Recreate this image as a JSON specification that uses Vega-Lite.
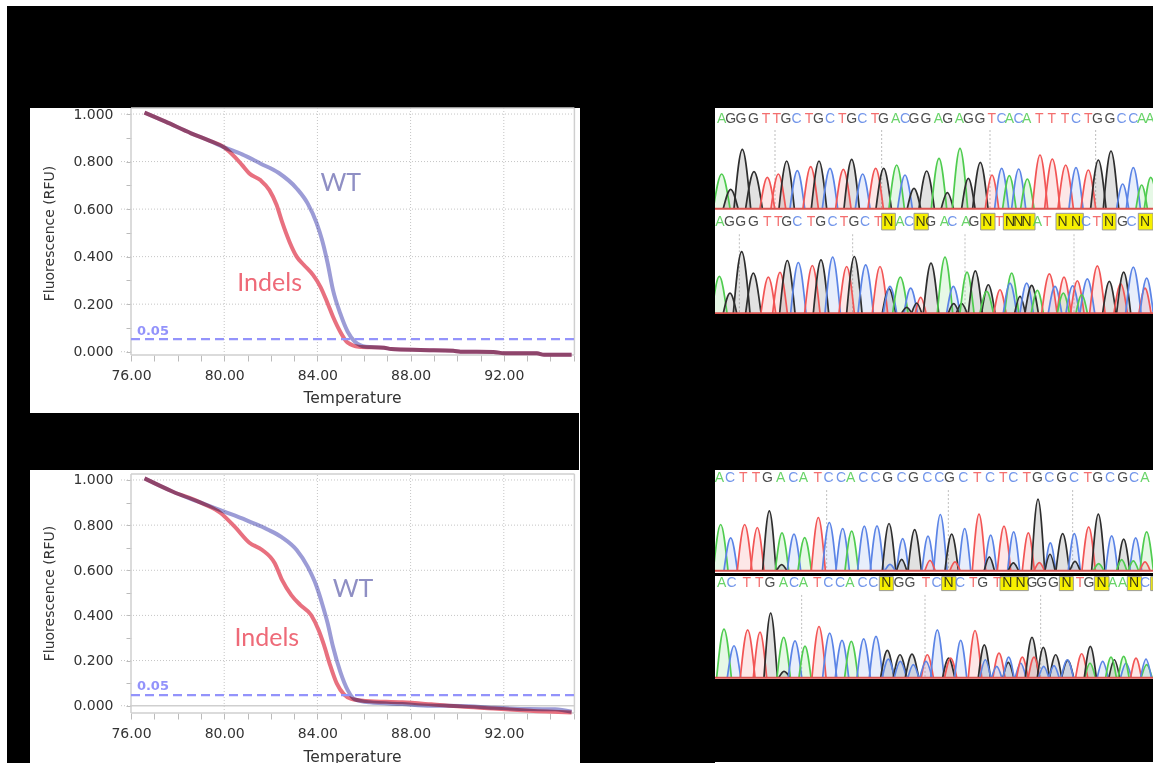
{"$schema":"https://vega.github.io/schema/vega-lite/v6.json","background":"white","padding":{"left":6,"top":5,"right":0,"bottom":0},"spacing":-4,"config":{"concat":{"spacing":0},"axis":{"labelFont":"DejaVu Sans","titleFont":"DejaVu Sans","labelFontSize":14,"labelColor":"#333","titleColor":"#333","titleFontWeight":"normal"}},
"datasets":{
"gridV1":[{"t":80,"f":-0.0139,"f2":1.0254},{"t":84,"f":-0.0139,"f2":1.0254},{"t":88,"f":-0.0139,"f2":1.0254},{"t":92,"f":-0.0139,"f2":1.0254}],
"gridH":[{"f":0,"t":75.57,"t2":76},{"f":0.2,"t":75.57,"t2":95.03},{"f":0.4,"t":75.57,"t2":95.03},{"f":0.6,"t":75.57,"t2":95.03},{"f":0.8,"t":75.57,"t2":95.03},{"f":1,"t":75.57,"t2":95.03}],
"gridV2":[{"t":80,"f":-0.0323,"f2":1.0266},{"t":84,"f":-0.0323,"f2":1.0266},{"t":88,"f":-0.0323,"f2":1.0266},{"t":92,"f":-0.0323,"f2":1.0266}],
"frameH1":[{"f":-0.0139,"t":76,"t2":95.03},{"f":1.0254,"t":76,"t2":95.03}],
"frameV1":[{"t":76,"f":-0.0139,"f2":1.0254},{"t":95.03,"f":-0.0139,"f2":1.0254}],
"frameH2":[{"f":-0.0323,"t":76,"t2":95.03},{"f":1.0266,"t":76,"t2":95.03},{"f":0,"t":76,"t2":95.03}],
"frameV2":[{"t":76,"f":-0.0323,"f2":1.0266},{"t":95.03,"f":-0.0323,"f2":1.0266}],
"wt1":[{"t":76.58,"f":1.006},{"t":77.48,"f":0.968},{"t":78.58,"f":0.919},{"t":79.36,"f":0.888},{"t":80,"f":0.86},{"t":80.77,"f":0.83},{"t":81.55,"f":0.792},{"t":82.33,"f":0.753},{"t":83.11,"f":0.687},{"t":83.58,"f":0.624},{"t":83.97,"f":0.54},{"t":84.2,"f":0.47},{"t":84.44,"f":0.372},{"t":84.67,"f":0.259},{"t":84.98,"f":0.161},{"t":85.3,"f":0.084},{"t":85.61,"f":0.042},{"t":86.08,"f":0.021},{"t":86.86,"f":0.017},{"t":87.17,"f":0.011},{"t":88.42,"f":0.007},{"t":89.83,"f":0.004},{"t":90.14,"f":0},{"t":91.55,"f":-0.001},{"t":92.02,"f":-0.007},{"t":93.42,"f":-0.007},{"t":93.73,"f":-0.013},{"t":94.91,"f":-0.013}],
"in1":[{"t":76.58,"f":1.006},{"t":77.48,"f":0.968},{"t":78.58,"f":0.919},{"t":79.36,"f":0.888},{"t":80,"f":0.86},{"t":80.45,"f":0.82},{"t":80.77,"f":0.785},{"t":81.08,"f":0.75},{"t":81.55,"f":0.722},{"t":81.94,"f":0.68},{"t":82.25,"f":0.617},{"t":82.48,"f":0.547},{"t":82.8,"f":0.463},{"t":83.11,"f":0.4},{"t":83.42,"f":0.365},{"t":83.81,"f":0.323},{"t":84.13,"f":0.273},{"t":84.44,"f":0.203},{"t":84.67,"f":0.147},{"t":84.98,"f":0.084},{"t":85.3,"f":0.038},{"t":85.77,"f":0.021},{"t":86.86,"f":0.017},{"t":87.17,"f":0.011},{"t":88.42,"f":0.007},{"t":89.83,"f":0.004},{"t":90.14,"f":0},{"t":91.55,"f":-0.001},{"t":92.02,"f":-0.007},{"t":93.42,"f":-0.007},{"t":93.73,"f":-0.013},{"t":94.91,"f":-0.013}],
"wt2":[{"t":76.58,"f":1.007},{"t":77.8,"f":0.948},{"t":78.89,"f":0.904},{"t":80,"f":0.86},{"t":80.92,"f":0.823},{"t":81.86,"f":0.781},{"t":82.48,"f":0.746},{"t":83.11,"f":0.69},{"t":83.58,"f":0.616},{"t":83.97,"f":0.527},{"t":84.2,"f":0.453},{"t":84.44,"f":0.365},{"t":84.67,"f":0.261},{"t":84.98,"f":0.151},{"t":85.3,"f":0.069},{"t":85.61,"f":0.028},{"t":86.23,"f":0.015},{"t":87.64,"f":0.007},{"t":88.89,"f":0},{"t":90.14,"f":-0.001},{"t":91.55,"f":-0.009},{"t":93.11,"f":-0.015},{"t":94.2,"f":-0.016},{"t":94.91,"f":-0.027}],
"in2":[{"t":76.58,"f":1.007},{"t":77.8,"f":0.948},{"t":78.89,"f":0.904},{"t":79.83,"f":0.855},{"t":80.45,"f":0.793},{"t":81.08,"f":0.722},{"t":81.63,"f":0.69},{"t":82.17,"f":0.631},{"t":82.48,"f":0.557},{"t":82.88,"f":0.49},{"t":83.27,"f":0.446},{"t":83.73,"f":0.402},{"t":84.05,"f":0.335},{"t":84.28,"f":0.269},{"t":84.52,"f":0.188},{"t":84.83,"f":0.099},{"t":85.14,"f":0.05},{"t":85.45,"f":0.03},{"t":86.08,"f":0.021},{"t":87.64,"f":0.015},{"t":88.89,"f":0.006},{"t":90.14,"f":-0.004},{"t":91.55,"f":-0.012},{"t":93.11,"f":-0.022},{"t":94.91,"f":-0.03}],
"c1p":[{"c":35,"b":"A","x":[10,35,60],"y":[0,103,0]},{"c":62,"b":"G","x":[40,62,84],"y":[0,57,0]},{"c":97,"b":"G","x":[72,97,122],"y":[0,177,0]},{"c":132,"b":"G","x":[107,132,157],"y":[0,110,0]},{"c":172,"b":"T","x":[150,172,194],"y":[0,93,0]},{"c":205,"b":"T","x":[183,205,227],"y":[0,103,0]},{"c":230,"b":"G","x":[207,230,253],"y":[0,142,0]},{"c":262,"b":"C","x":[240,262,284],"y":[0,113,0]},{"c":302,"b":"T","x":[279,302,325],"y":[0,125,0]},{"c":327,"b":"G","x":[304,327,350],"y":[0,142,0]},{"c":360,"b":"C","x":[337,360,383],"y":[0,120,0]},{"c":400,"b":"T","x":[377,400,423],"y":[0,117,0]},{"c":425,"b":"G","x":[402,425,448],"y":[0,147,0]},{"c":458,"b":"C","x":[436,458,480],"y":[0,103,0]},{"c":497,"b":"T","x":[474,497,520],"y":[0,120,0]},{"c":521,"b":"G","x":[498,521,544],"y":[0,120,0]},{"c":560,"b":"A","x":[537,560,583],"y":[0,130,0]},{"c":585,"b":"C","x":[563,585,607],"y":[0,100,0]},{"c":612,"b":"G","x":[592,612,632],"y":[0,60,0]},{"c":650,"b":"G","x":[627,650,673],"y":[0,112,0]},{"c":687,"b":"A","x":[664,687,710],"y":[0,150,0]},{"c":712,"b":"G","x":[694,712,730],"y":[0,47,0]},{"c":750,"b":"A","x":[727,750,773],"y":[0,180,0]},{"c":775,"b":"G","x":[755,775,795],"y":[0,90,0]},{"c":811,"b":"G","x":[788,811,834],"y":[0,138,0]},{"c":846,"b":"T","x":[826,846,866],"y":[0,100,0]},{"c":875,"b":"C","x":[854,875,896],"y":[0,120,0]},{"c":898,"b":"A","x":[878,898,918],"y":[0,98,0]},{"c":926,"b":"C","x":[905,926,947],"y":[0,118,0]},{"c":952,"b":"A","x":[932,952,972],"y":[0,88,0]},{"c":990,"b":"T","x":[967,990,1013],"y":[0,160,0]},{"c":1027,"b":"T","x":[1004,1027,1050],"y":[0,148,0]},{"c":1067,"b":"T","x":[1044,1067,1090],"y":[0,130,0]},{"c":1098,"b":"C","x":[1077,1098,1119],"y":[0,122,0]},{"c":1135,"b":"T","x":[1113,1135,1157],"y":[0,115,0]},{"c":1165,"b":"G","x":[1142,1165,1188],"y":[0,145,0]},{"c":1203,"b":"G","x":[1180,1203,1226],"y":[0,172,0]},{"c":1238,"b":"C","x":[1220,1238,1256],"y":[0,73,0]},{"c":1270,"b":"C","x":[1249,1270,1291],"y":[0,122,0]},{"c":1295,"b":"A","x":[1278,1295,1312],"y":[0,70,0]},{"c":1322,"b":"A","x":[1303,1322,1345],"y":[0,93,0]}],
"c1l":[{"x":35,"y":270,"b":"A"},{"x":62,"y":270,"b":"G"},{"x":93,"y":270,"b":"G"},{"x":130,"y":270,"b":"G"},{"x":168,"y":270,"b":"T"},{"x":200,"y":270,"b":"T"},{"x":228,"y":270,"b":"G"},{"x":260,"y":270,"b":"C"},{"x":297,"y":270,"b":"T"},{"x":325,"y":270,"b":"G"},{"x":360,"y":270,"b":"C"},{"x":397,"y":270,"b":"T"},{"x":425,"y":270,"b":"G"},{"x":457,"y":270,"b":"C"},{"x":495,"y":270,"b":"T"},{"x":520,"y":270,"b":"G"},{"x":557,"y":270,"b":"A"},{"x":585,"y":270,"b":"C"},{"x":612,"y":270,"b":"G"},{"x":648,"y":270,"b":"G"},{"x":685,"y":270,"b":"A"},{"x":713,"y":270,"b":"G"},{"x":748,"y":270,"b":"A"},{"x":775,"y":270,"b":"G"},{"x":810,"y":270,"b":"G"},{"x":845,"y":270,"b":"T"},{"x":875,"y":270,"b":"C"},{"x":898,"y":270,"b":"A"},{"x":926,"y":270,"b":"C"},{"x":950,"y":270,"b":"A"},{"x":988,"y":270,"b":"T"},{"x":1025,"y":270,"b":"T"},{"x":1065,"y":270,"b":"T"},{"x":1098,"y":270,"b":"C"},{"x":1135,"y":270,"b":"T"},{"x":1162,"y":270,"b":"G"},{"x":1200,"y":270,"b":"G"},{"x":1235,"y":270,"b":"C"},{"x":1270,"y":270,"b":"C"},{"x":1295,"y":270,"b":"A"},{"x":1320,"y":270,"b":"A"}],
"c1d":[{"x":195,"y":235,"y2":0},{"x":515,"y":235,"y2":0},{"x":840,"y":235,"y2":0},{"x":1157,"y":235,"y2":0}],
"c2p":[{"c":28,"b":"A","x":[5,28,51],"y":[0,110,0]},{"c":60,"b":"G","x":[40,60,80],"y":[0,60,0]},{"c":95,"b":"G","x":[70,95,120],"y":[0,185,0]},{"c":130,"b":"G","x":[107,130,153],"y":[0,120,0]},{"c":175,"b":"T","x":[153,175,197],"y":[0,108,0]},{"c":210,"b":"T","x":[188,210,232],"y":[0,122,0]},{"c":232,"b":"G","x":[209,232,255],"y":[0,158,0]},{"c":265,"b":"C","x":[242,265,288],"y":[0,152,0]},{"c":307,"b":"T","x":[284,307,330],"y":[0,143,0]},{"c":333,"b":"G","x":[310,333,356],"y":[0,160,0]},{"c":368,"b":"C","x":[345,368,391],"y":[0,168,0]},{"c":410,"b":"T","x":[387,410,433],"y":[0,140,0]},{"c":433,"b":"G","x":[410,433,456],"y":[0,170,0]},{"c":467,"b":"C","x":[444,467,490],"y":[0,145,0]},{"c":510,"b":"T","x":[487,510,533],"y":[0,140,0]},{"c":537,"b":"G","x":[517,537,557],"y":[0,73,0]},{"c":540,"b":"C","x":[520,540,560],"y":[0,80,0]},{"c":571,"b":"A","x":[548,571,594],"y":[0,108,0]},{"c":602,"b":"C","x":[582,602,622],"y":[0,75,0]},{"c":590,"b":"G","x":[575,590,605],"y":[0,17,0]},{"c":632,"b":"T","x":[616,632,648],"y":[0,47,0]},{"c":620,"b":"G","x":[605,620,635],"y":[0,30,0]},{"c":663,"b":"G","x":[640,663,686],"y":[0,150,0]},{"c":705,"b":"A","x":[682,705,728],"y":[0,168,0]},{"c":730,"b":"C","x":[710,730,750],"y":[0,80,0]},{"c":731,"b":"G","x":[715,731,747],"y":[0,28,0]},{"c":755,"b":"G","x":[739,755,771],"y":[0,28,0]},{"c":771,"b":"A","x":[750,771,792],"y":[0,123,0]},{"c":796,"b":"G","x":[775,796,817],"y":[0,127,0]},{"c":835,"b":"G","x":[815,835,855],"y":[0,85,0]},{"c":830,"b":"A","x":[810,830,850],"y":[0,65,0]},{"c":870,"b":"T","x":[852,870,888],"y":[0,70,0]},{"c":905,"b":"A","x":[884,905,926],"y":[0,120,0]},{"c":900,"b":"C","x":[880,900,920],"y":[0,90,0]},{"c":930,"b":"G","x":[914,930,946],"y":[0,50,0]},{"c":950,"b":"C","x":[930,950,970],"y":[0,90,0]},{"c":965,"b":"G","x":[945,965,985],"y":[0,83,0]},{"c":982,"b":"A","x":[964,982,1000],"y":[0,68,0]},{"c":1018,"b":"T","x":[995,1018,1041],"y":[0,118,0]},{"c":1035,"b":"C","x":[1015,1035,1055],"y":[0,80,0]},{"c":1062,"b":"T","x":[1041,1062,1083],"y":[0,108,0]},{"c":1060,"b":"A","x":[1042,1060,1078],"y":[0,60,0]},{"c":1088,"b":"C","x":[1068,1088,1108],"y":[0,82,0]},{"c":1102,"b":"T","x":[1082,1102,1122],"y":[0,97,0]},{"c":1132,"b":"C","x":[1110,1132,1154],"y":[0,103,0]},{"c":1115,"b":"A","x":[1098,1115,1132],"y":[0,55,0]},{"c":1162,"b":"T","x":[1139,1162,1185],"y":[0,142,0]},{"c":1198,"b":"G","x":[1178,1198,1218],"y":[0,95,0]},{"c":1232,"b":"T","x":[1212,1232,1252],"y":[0,88,0]},{"c":1241,"b":"G","x":[1220,1241,1262],"y":[0,123,0]},{"c":1270,"b":"C","x":[1247,1270,1293],"y":[0,138,0]},{"c":1305,"b":"T","x":[1287,1305,1323],"y":[0,75,0]},{"c":1310,"b":"C","x":[1290,1310,1330],"y":[0,105,0]}],
"c2l":[{"x":30,"y":275,"b":"A"},{"x":58,"y":275,"b":"G"},{"x":92,"y":275,"b":"G"},{"x":130,"y":275,"b":"G"},{"x":172,"y":275,"b":"T"},{"x":205,"y":275,"b":"T"},{"x":230,"y":275,"b":"G"},{"x":262,"y":275,"b":"C"},{"x":303,"y":275,"b":"T"},{"x":332,"y":275,"b":"G"},{"x":368,"y":275,"b":"C"},{"x":402,"y":275,"b":"T"},{"x":432,"y":275,"b":"G"},{"x":465,"y":275,"b":"C"},{"x":505,"y":275,"b":"T"},{"x":535,"y":275,"b":"N"},{"x":570,"y":275,"b":"A"},{"x":597,"y":275,"b":"C"},{"x":632,"y":275,"b":"N"},{"x":662,"y":275,"b":"G"},{"x":703,"y":275,"b":"A"},{"x":727,"y":275,"b":"C"},{"x":768,"y":275,"b":"A"},{"x":792,"y":275,"b":"G"},{"x":832,"y":275,"b":"N"},{"x":868,"y":275,"b":"T"},{"x":900,"y":275,"b":"N"},{"x":925,"y":275,"b":"N"},{"x":950,"y":275,"b":"N"},{"x":982,"y":275,"b":"A"},{"x":1012,"y":275,"b":"T"},{"x":1058,"y":275,"b":"N"},{"x":1098,"y":275,"b":"N"},{"x":1128,"y":275,"b":"C"},{"x":1160,"y":275,"b":"T"},{"x":1197,"y":275,"b":"N"},{"x":1237,"y":275,"b":"G"},{"x":1265,"y":275,"b":"C"},{"x":1305,"y":275,"b":"N"}],
"c2b":[{"x":515,"x2":556,"y":300,"y2":250},{"x":612,"x2":655,"y":300,"y2":250},{"x":812,"x2":855,"y":300,"y2":250},{"x":880,"x2":975,"y":300,"y2":250},{"x":1038,"x2":1120,"y":300,"y2":250},{"x":1177,"x2":1218,"y":300,"y2":250},{"x":1285,"x2":1329,"y":300,"y2":250}],
"c2d":[{"x":88,"y":237,"y2":0},{"x":428,"y":237,"y2":0},{"x":765,"y":237,"y2":0},{"x":1092,"y":237,"y2":0}],
"c3p":[{"c":32,"b":"A","x":[10,32,54],"y":[0,137,0]},{"c":62,"b":"C","x":[42,62,82],"y":[0,97,0]},{"c":104,"b":"T","x":[82,104,126],"y":[0,137,0]},{"c":142,"b":"T","x":[122,142,162],"y":[0,128,0]},{"c":178,"b":"G","x":[158,178,198],"y":[0,178,0]},{"c":216,"b":"A","x":[196,216,236],"y":[0,112,0]},{"c":252,"b":"C","x":[232,252,272],"y":[0,108,0]},{"c":284,"b":"A","x":[264,284,304],"y":[0,98,0]},{"c":325,"b":"T","x":[304,325,346],"y":[0,158,0]},{"c":358,"b":"C","x":[337,358,379],"y":[0,143,0]},{"c":398,"b":"C","x":[378,398,418],"y":[0,125,0]},{"c":425,"b":"A","x":[405,425,445],"y":[0,117,0]},{"c":463,"b":"C","x":[443,463,483],"y":[0,132,0]},{"c":501,"b":"C","x":[481,501,521],"y":[0,133,0]},{"c":537,"b":"G","x":[517,537,557],"y":[0,140,0]},{"c":578,"b":"C","x":[560,578,596],"y":[0,95,0]},{"c":614,"b":"G","x":[594,614,634],"y":[0,122,0]},{"c":654,"b":"C","x":[636,654,672],"y":[0,102,0]},{"c":691,"b":"C","x":[671,691,711],"y":[0,167,0]},{"c":725,"b":"G","x":[705,725,745],"y":[0,108,0]},{"c":764,"b":"C","x":[746,764,782],"y":[0,125,0]},{"c":807,"b":"T","x":[787,807,827],"y":[0,168,0]},{"c":842,"b":"C","x":[824,842,860],"y":[0,105,0]},{"c":882,"b":"T","x":[862,882,902],"y":[0,132,0]},{"c":911,"b":"C","x":[893,911,929],"y":[0,115,0]},{"c":955,"b":"T","x":[937,955,973],"y":[0,112,0]},{"c":984,"b":"G","x":[964,984,1004],"y":[0,213,0]},{"c":1021,"b":"C","x":[1005,1021,1037],"y":[0,82,0]},{"c":1058,"b":"G","x":[1038,1058,1078],"y":[0,110,0]},{"c":1093,"b":"C","x":[1075,1093,1111],"y":[0,110,0]},{"c":1136,"b":"T","x":[1116,1136,1156],"y":[0,130,0]},{"c":1165,"b":"G","x":[1145,1165,1185],"y":[0,168,0]},{"c":1205,"b":"C","x":[1187,1205,1223],"y":[0,103,0]},{"c":1241,"b":"G","x":[1223,1241,1259],"y":[0,93,0]},{"c":1277,"b":"C","x":[1259,1277,1295],"y":[0,97,0]},{"c":1310,"b":"A","x":[1290,1310,1330],"y":[0,115,0]},{"c":215,"b":"G","x":[200,215,230],"y":[0,17,0]},{"c":575,"b":"G","x":[560,575,590],"y":[0,33,0]},{"c":660,"b":"T","x":[645,660,675],"y":[0,30,0]},{"c":838,"b":"G","x":[823,838,853],"y":[0,40,0]},{"c":735,"b":"T","x":[720,735,750],"y":[0,25,0]},{"c":910,"b":"G","x":[895,910,925],"y":[0,22,0]},{"c":988,"b":"T","x":[973,988,1003],"y":[0,23,0]},{"c":1020,"b":"G","x":[1005,1020,1035],"y":[0,48,0]},{"c":1095,"b":"G","x":[1080,1095,1110],"y":[0,27,0]},{"c":1166,"b":"A","x":[1151,1166,1181],"y":[0,20,0]},{"c":1235,"b":"A","x":[1220,1235,1250],"y":[0,32,0]},{"c":1270,"b":"A","x":[1255,1270,1285],"y":[0,28,0]},{"c":1305,"b":"T","x":[1290,1305,1320],"y":[0,25,0]},{"c":540,"b":"C","x":[525,540,555],"y":[0,18,0]}],
"c3l":[{"x":28,"y":275,"b":"A"},{"x":60,"y":275,"b":"C"},{"x":100,"y":275,"b":"T"},{"x":138,"y":275,"b":"T"},{"x":172,"y":275,"b":"G"},{"x":212,"y":275,"b":"A"},{"x":250,"y":275,"b":"C"},{"x":280,"y":275,"b":"A"},{"x":323,"y":275,"b":"T"},{"x":356,"y":275,"b":"C"},{"x":393,"y":275,"b":"C"},{"x":422,"y":275,"b":"A"},{"x":460,"y":275,"b":"C"},{"x":497,"y":275,"b":"C"},{"x":533,"y":275,"b":"G"},{"x":575,"y":275,"b":"C"},{"x":610,"y":275,"b":"G"},{"x":652,"y":275,"b":"C"},{"x":688,"y":275,"b":"C"},{"x":718,"y":275,"b":"G"},{"x":760,"y":275,"b":"C"},{"x":802,"y":275,"b":"T"},{"x":840,"y":275,"b":"C"},{"x":880,"y":275,"b":"T"},{"x":910,"y":275,"b":"C"},{"x":950,"y":275,"b":"T"},{"x":982,"y":275,"b":"G"},{"x":1018,"y":275,"b":"C"},{"x":1055,"y":275,"b":"G"},{"x":1092,"y":275,"b":"C"},{"x":1133,"y":275,"b":"T"},{"x":1163,"y":275,"b":"G"},{"x":1200,"y":275,"b":"C"},{"x":1238,"y":275,"b":"G"},{"x":1272,"y":275,"b":"C"},{"x":1305,"y":275,"b":"A"}],
"c3d":[{"x":350,"y":240,"y2":0},{"x":715,"y":240,"y2":0},{"x":1088,"y":240,"y2":0}],
"c4p":[{"c":42,"b":"A","x":[20,42,64],"y":[0,145,0]},{"c":72,"b":"C","x":[52,72,92],"y":[0,95,0]},{"c":113,"b":"T","x":[91,113,135],"y":[0,143,0]},{"c":150,"b":"T","x":[130,150,170],"y":[0,136,0]},{"c":182,"b":"G","x":[162,182,202],"y":[0,193,0]},{"c":222,"b":"G","x":[207,222,240],"y":[0,18,0]},{"c":221,"b":"A","x":[201,221,241],"y":[0,120,0]},{"c":255,"b":"C","x":[235,255,275],"y":[0,110,0]},{"c":285,"b":"A","x":[267,285,303],"y":[0,94,0]},{"c":327,"b":"T","x":[306,327,348],"y":[0,153,0]},{"c":359,"b":"C","x":[338,359,380],"y":[0,133,0]},{"c":396,"b":"C","x":[376,396,416],"y":[0,111,0]},{"c":424,"b":"A","x":[404,424,444],"y":[0,108,0]},{"c":461,"b":"C","x":[441,461,481],"y":[0,116,0]},{"c":498,"b":"C","x":[478,498,518],"y":[0,123,0]},{"c":532,"b":"G","x":[512,532,552],"y":[0,81,0]},{"c":535,"b":"C","x":[517,535,553],"y":[0,55,0]},{"c":570,"b":"G","x":[550,570,590],"y":[0,68,0]},{"c":571,"b":"C","x":[553,571,589],"y":[0,48,0]},{"c":606,"b":"G","x":[586,606,626],"y":[0,70,0]},{"c":610,"b":"C","x":[594,610,626],"y":[0,38,0]},{"c":652,"b":"T","x":[634,652,670],"y":[0,68,0]},{"c":648,"b":"C","x":[630,648,666],"y":[0,48,0]},{"c":682,"b":"C","x":[662,682,702],"y":[0,143,0]},{"c":716,"b":"G","x":[698,716,734],"y":[0,58,0]},{"c":722,"b":"T","x":[704,722,740],"y":[0,58,0]},{"c":752,"b":"C","x":[734,752,770],"y":[0,111,0]},{"c":795,"b":"T","x":[775,795,815],"y":[0,141,0]},{"c":823,"b":"G","x":[805,823,841],"y":[0,98,0]},{"c":826,"b":"C","x":[810,826,842],"y":[0,53,0]},{"c":867,"b":"T","x":[849,867,885],"y":[0,73,0]},{"c":860,"b":"C","x":[845,860,875],"y":[0,33,0]},{"c":895,"b":"G","x":[879,895,911],"y":[0,45,0]},{"c":896,"b":"C","x":[880,896,912],"y":[0,61,0]},{"c":932,"b":"C","x":[916,932,948],"y":[0,43,0]},{"c":937,"b":"T","x":[920,937,954],"y":[0,61,0]},{"c":966,"b":"G","x":[946,966,986],"y":[0,120,0]},{"c":972,"b":"T","x":[955,972,989],"y":[0,61,0]},{"c":1000,"b":"G","x":[982,1000,1018],"y":[0,90,0]},{"c":1001,"b":"C","x":[986,1001,1016],"y":[0,33,0]},{"c":1037,"b":"G","x":[1019,1037,1055],"y":[0,68,0]},{"c":1032,"b":"C","x":[1017,1032,1047],"y":[0,35,0]},{"c":1073,"b":"G","x":[1055,1073,1091],"y":[0,51,0]},{"c":1072,"b":"C","x":[1054,1072,1090],"y":[0,53,0]},{"c":1115,"b":"T","x":[1097,1115,1133],"y":[0,71,0]},{"c":1140,"b":"A","x":[1124,1140,1156],"y":[0,43,0]},{"c":1141,"b":"G","x":[1123,1141,1159],"y":[0,93,0]},{"c":1178,"b":"C","x":[1162,1178,1194],"y":[0,48,0]},{"c":1213,"b":"G","x":[1197,1213,1229],"y":[0,53,0]},{"c":1203,"b":"A","x":[1187,1203,1219],"y":[0,61,0]},{"c":1248,"b":"C","x":[1232,1248,1264],"y":[0,43,0]},{"c":1241,"b":"A","x":[1225,1241,1257],"y":[0,63,0]},{"c":1278,"b":"T","x":[1262,1278,1294],"y":[0,58,0]},{"c":1310,"b":"A","x":[1294,1310,1326],"y":[0,38,0]},{"c":1308,"b":"C","x":[1292,1308,1324],"y":[0,55,0]}],
"c4l":[{"x":35,"y":283,"b":"A"},{"x":65,"y":283,"b":"C"},{"x":110,"y":283,"b":"T"},{"x":148,"y":283,"b":"T"},{"x":180,"y":283,"b":"G"},{"x":220,"y":283,"b":"A"},{"x":252,"y":283,"b":"C"},{"x":280,"y":283,"b":"A"},{"x":322,"y":283,"b":"T"},{"x":355,"y":283,"b":"C"},{"x":390,"y":283,"b":"C"},{"x":420,"y":283,"b":"A"},{"x":458,"y":283,"b":"C"},{"x":490,"y":283,"b":"C"},{"x":529,"y":283,"b":"N"},{"x":567,"y":283,"b":"G"},{"x":600,"y":283,"b":"G"},{"x":648,"y":283,"b":"T"},{"x":680,"y":283,"b":"C"},{"x":716,"y":283,"b":"N"},{"x":750,"y":283,"b":"C"},{"x":790,"y":283,"b":"T"},{"x":818,"y":283,"b":"G"},{"x":862,"y":283,"b":"T"},{"x":892,"y":283,"b":"N"},{"x":932,"y":283,"b":"N"},{"x":966,"y":283,"b":"G"},{"x":995,"y":283,"b":"G"},{"x":1030,"y":283,"b":"G"},{"x":1070,"y":283,"b":"N"},{"x":1110,"y":283,"b":"T"},{"x":1137,"y":283,"b":"G"},{"x":1175,"y":283,"b":"N"},{"x":1208,"y":283,"b":"A"},{"x":1238,"y":283,"b":"A"},{"x":1272,"y":283,"b":"N"},{"x":1305,"y":283,"b":"C"}],
"c4b":[{"x":508,"x2":550,"y":303,"y2":261},{"x":695,"x2":738,"y":303,"y2":261},{"x":870,"x2":955,"y":303,"y2":261},{"x":1048,"x2":1090,"y":303,"y2":261},{"x":1153,"x2":1197,"y":303,"y2":261},{"x":1252,"x2":1295,"y":303,"y2":261},{"x":1322,"x2":1329,"y":303,"y2":261}],
"c4d":[{"x":275,"y":248,"y2":0},{"x":645,"y":248,"y2":0},{"x":992,"y":248,"y2":0}]
},
"vconcat":[
{"width":1147,"height":102,"view":{"fill":"#000","stroke":null},"data":{"values":[{"v":0}]},"mark":{"type":"rule","opacity":0},"encoding":{}},
{"spacing":-1,"hconcat":[
{"width":23,"height":655,"view":{"fill":"#000","stroke":null},"data":{"values":[{"v":0}]},"mark":{"type":"rule","opacity":0},"encoding":{}},
{"spacing":0,"bounds":"flush","vconcat":[
{"width":549,"height":305,"view":{"fill":"#fff","stroke":null},
"encoding":{"x":{"field":"t","type":"quantitative","scale":{"domain":[71.665,95.227],"nice":false,"zero":false},"axis":{"orient":"bottom","offset":-58,"domain":false,"grid":false,"values":[77,78,79,80,81,82,83,84,85,86,87,88,89,90,91,92,93,94,95,76],"labelExpr":"(datum.value-76)%4==0 ? format(datum.value,'.2f') : ''","labelPadding":7,"labelOverlap":false,"tickColor":"#bbb","tickSize":6,"title":"Temperature","titleFontSize":15.5,"titleX":322,"titleY":42,"titleBaseline":"middle","titleAnchor":"middle"}},"y":{"field":"f","type":"quantitative","scale":{"domain":[-0.2579,1.0254],"nice":false,"zero":false},"axis":{"orient":"left","offset":-101,"domain":false,"grid":false,"values":[0,0.1,0.2,0.3,0.4,0.5,0.6,0.7,0.8,0.9,1],"labelExpr":"round(datum.value*10)%2==0 ? format(datum.value,'.3f') : ''","labelPadding":13,"labelOverlap":false,"tickColor":"#bbb","tickSize":5,"title":"Fluorescence (RFU)","titleFontSize":14,"titleX":-82,"titleY":125,"titleBaseline":"middle","titleAnchor":"middle"}}},
"layer":[
{"data":{"name":"gridV1"},"mark":{"type":"rule","color":"#c4c4c4","strokeDash":[1,2],"strokeWidth":1},"encoding":{"y2":{"field":"f2"}}},
{"data":{"name":"gridH"},"mark":{"type":"rule","color":"#c4c4c4","strokeDash":[1,2],"strokeWidth":1},"encoding":{"x2":{"field":"t2"}}},
{"data":{"name":"frameH1"},"mark":{"type":"rule","color":"#cfcfcf","strokeWidth":1.5},"encoding":{"x2":{"field":"t2"}}},
{"data":{"name":"frameV1"},"mark":{"type":"rule","color":"#cfcfcf","strokeWidth":1.5},"encoding":{"y2":{"field":"f2"}}},
{"data":{"name":"in1"},"mark":{"type":"line","color":"#e8707f","strokeWidth":4,"interpolate":"monotone"}},
{"data":{"name":"wt1"},"mark":{"type":"line","color":"#9c9cd6","strokeWidth":4,"interpolate":"monotone","blend":"multiply"}},
{"data":{"values":[{"t":76,"f":0.053,"t2":95.03}]},"mark":{"type":"rule","color":"#9393fb","strokeWidth":2.4,"strokeDash":[9,5]},"encoding":{"x2":{"field":"t2"}}},
{"data":{"values":[{"t":76.94,"f":0.088,"label":"0.05"}]},"mark":{"type":"text","color":"#9393fb","font":"DejaVu Sans","fontSize":13,"fontWeight":"bold"},"encoding":{"text":{"field":"label"}}},
{"data":{"values":[{"t":85.0,"f":0.71,"label":"WT"}]},"mark":{"type":"text","color":"#8f8fc4","font":"Lato","fontSize":25},"encoding":{"text":{"field":"label"}}},
{"data":{"values":[{"t":81.95,"f":0.289,"label":"Indels"}]},"mark":{"type":"text","color":"#ee6a78","font":"Lato","fontSize":25},"encoding":{"text":{"field":"label"}}}
]},
{"width":549,"height":57,"view":{"fill":"#000","stroke":null},"data":{"values":[{"v":0}]},"mark":{"type":"rule","opacity":0},"encoding":{}},
{"width":549,"height":293,"view":{"fill":"#fff","stroke":null},
"encoding":{"x":{"field":"t","type":"quantitative","scale":{"domain":[71.665,95.227],"nice":false,"zero":false},"axis":{"orient":"bottom","offset":-50,"domain":false,"grid":false,"values":[77,78,79,80,81,82,83,84,85,86,87,88,89,90,91,92,93,94,95,76],"labelExpr":"(datum.value-76)%4==0 ? format(datum.value,'.2f') : ''","labelPadding":7,"labelOverlap":false,"tickColor":"#bbb","tickSize":6,"title":"Temperature","titleFontSize":15.5,"titleX":322,"titleY":43,"titleBaseline":"middle","titleAnchor":"middle"}},"y":{"field":"f","type":"quantitative","scale":{"domain":[-0.2539,1.0443],"nice":false,"zero":false},"axis":{"orient":"left","offset":-101,"domain":false,"grid":false,"values":[0,0.1,0.2,0.3,0.4,0.5,0.6,0.7,0.8,0.9,1],"labelExpr":"round(datum.value*10)%2==0 ? format(datum.value,'.3f') : ''","labelPadding":13,"labelOverlap":false,"tickColor":"#bbb","tickSize":5,"title":"Fluorescence (RFU)","titleFontSize":14,"titleX":-82,"titleY":123,"titleBaseline":"middle","titleAnchor":"middle"}}},
"layer":[
{"data":{"name":"gridV2"},"mark":{"type":"rule","color":"#c4c4c4","strokeDash":[1,2],"strokeWidth":1},"encoding":{"y2":{"field":"f2"}}},
{"data":{"name":"gridH"},"mark":{"type":"rule","color":"#c4c4c4","strokeDash":[1,2],"strokeWidth":1},"encoding":{"x2":{"field":"t2"}}},
{"data":{"name":"frameH2"},"mark":{"type":"rule","color":"#cfcfcf","strokeWidth":1.5},"encoding":{"x2":{"field":"t2"}}},
{"data":{"name":"frameV2"},"mark":{"type":"rule","color":"#cfcfcf","strokeWidth":1.5},"encoding":{"y2":{"field":"f2"}}},
{"data":{"name":"in2"},"mark":{"type":"line","color":"#e8707f","strokeWidth":4,"interpolate":"monotone"}},
{"data":{"name":"wt2"},"mark":{"type":"line","color":"#9c9cd6","strokeWidth":4,"interpolate":"monotone","blend":"multiply"}},
{"data":{"values":[{"t":76,"f":0.047,"t2":95.03}]},"mark":{"type":"rule","color":"#9393fb","strokeWidth":2.4,"strokeDash":[9,5]},"encoding":{"x2":{"field":"t2"}}},
{"data":{"values":[{"t":76.94,"f":0.087,"label":"0.05"}]},"mark":{"type":"text","color":"#9393fb","font":"DejaVu Sans","fontSize":13,"fontWeight":"bold"},"encoding":{"text":{"field":"label"}}},
{"data":{"values":[{"t":85.53,"f":0.517,"label":"WT"}]},"mark":{"type":"text","color":"#8f8fc4","font":"Lato","fontSize":25},"encoding":{"text":{"field":"label"}}},
{"data":{"values":[{"t":81.83,"f":0.301,"label":"Indels"}]},"mark":{"type":"text","color":"#ee6a78","font":"Lato","fontSize":25},"encoding":{"text":{"field":"label"}}}
]}
]},
{"width":135,"height":655,"view":{"fill":"#000","stroke":null},"data":{"values":[{"v":0}]},"mark":{"type":"rule","opacity":0},"encoding":{}},
{"spacing":0,"bounds":"flush","vconcat":[
{"width":438,"height":102,"view":{"fill":"#fff","stroke":null},
"encoding":{"x":{"field":"x","type":"quantitative","scale":{"domain":[15,1329],"nice":false,"zero":false},"axis":null},"y":{"field":"y","type":"quantitative","stack":null,"scale":{"domain":[-5,301],"nice":false,"zero":false},"axis":null},"color":{"field":"b","type":"nominal","legend":null,"scale":{"domain":["A","C","G","T","N"],"range":["#4fcc4f","#5b84e6","#2e2e2e","#f25555","#1a1a1a"]}}},
"layer":[
{"data":{"name":"c1d"},"mark":{"type":"rule","color":"#bdbdbd","strokeDash":[2,2],"strokeWidth":1,"clip":true},"encoding":{"y2":{"field":"y2"},"color":{"value":"#bdbdbd"}}},
{"data":{"name":"c1p"},"transform":[{"flatten":["x","y"]}],"mark":{"type":"area","interpolate":"monotone","fillOpacity":0.14,"clip":true},"encoding":{"detail":{"field":"c"}}},
{"data":{"name":"c1p"},"transform":[{"flatten":["x","y"]}],"mark":{"type":"line","interpolate":"monotone","strokeWidth":1.7,"clip":true},"encoding":{"detail":{"field":"c"}}},
{"data":{"values":[{"x":15,"x2":1329,"y":-1}]},"mark":{"type":"rule","color":"#d9534f","strokeWidth":2,"clip":true},"encoding":{"x2":{"field":"x2"},"color":{"value":"#d9534f"}}},
{"data":{"name":"c1l"},"mark":{"type":"text","font":"Liberation Sans","fontSize":14,"opacity":0.85,"dy":1},"encoding":{"text":{"field":"b","type":"nominal"}}}
]},
{"width":438,"height":104,"view":{"fill":"#fff","stroke":null},
"encoding":{"x":{"field":"x","type":"quantitative","scale":{"domain":[15,1329],"nice":false,"zero":false},"axis":null},"y":{"field":"y","type":"quantitative","stack":null,"scale":{"domain":[-3,310],"nice":false,"zero":false},"axis":null},"color":{"field":"b","type":"nominal","legend":null,"scale":{"domain":["A","C","G","T","N"],"range":["#4fcc4f","#5b84e6","#2e2e2e","#f25555","#1a1a1a"]}}},
"layer":[
{"data":{"name":"c2d"},"mark":{"type":"rule","color":"#bdbdbd","strokeDash":[2,2],"strokeWidth":1,"clip":true},"encoding":{"y2":{"field":"y2"},"color":{"value":"#bdbdbd"}}},
{"data":{"name":"c2p"},"transform":[{"flatten":["x","y"]}],"mark":{"type":"area","interpolate":"monotone","fillOpacity":0.14,"clip":true},"encoding":{"detail":{"field":"c"}}},
{"data":{"name":"c2p"},"transform":[{"flatten":["x","y"]}],"mark":{"type":"line","interpolate":"monotone","strokeWidth":1.7,"clip":true},"encoding":{"detail":{"field":"c"}}},
{"data":{"values":[{"x":15,"x2":1329,"y":-1}]},"mark":{"type":"rule","color":"#d9534f","strokeWidth":2,"clip":true},"encoding":{"x2":{"field":"x2"},"color":{"value":"#d9534f"}}},
{"data":{"name":"c2b"},"mark":{"type":"rect","fill":"#f7f000","stroke":"#999","strokeWidth":1,"clip":true},"encoding":{"x2":{"field":"x2"},"y2":{"field":"y2"},"color":{"value":"#f7f000"}}},
{"data":{"name":"c2l"},"mark":{"type":"text","font":"Liberation Sans","fontSize":14,"opacity":0.85},"encoding":{"text":{"field":"b","type":"nominal"}}}
]},
{"width":438,"height":156,"view":{"fill":"#000","stroke":null},"data":{"values":[{"v":0}]},"mark":{"type":"rule","opacity":0},"encoding":{}},
{"width":438,"height":103,"view":{"fill":"#fff","stroke":null},
"encoding":{"x":{"field":"x","type":"quantitative","scale":{"domain":[15,1329],"nice":false,"zero":false},"axis":null},"y":{"field":"y","type":"quantitative","stack":null,"scale":{"domain":[-8,300],"nice":false,"zero":false},"axis":null},"color":{"field":"b","type":"nominal","legend":null,"scale":{"domain":["A","C","G","T","N"],"range":["#4fcc4f","#5b84e6","#2e2e2e","#f25555","#1a1a1a"]}}},
"layer":[
{"data":{"name":"c3d"},"mark":{"type":"rule","color":"#bdbdbd","strokeDash":[2,2],"strokeWidth":1,"clip":true},"encoding":{"y2":{"field":"y2"},"color":{"value":"#bdbdbd"}}},
{"data":{"name":"c3p"},"transform":[{"flatten":["x","y"]}],"mark":{"type":"area","interpolate":"monotone","fillOpacity":0.14,"clip":true},"encoding":{"detail":{"field":"c"}}},
{"data":{"name":"c3p"},"transform":[{"flatten":["x","y"]}],"mark":{"type":"line","interpolate":"monotone","strokeWidth":1.7,"clip":true},"encoding":{"detail":{"field":"c"}}},
{"data":{"values":[{"x":15,"x2":1329,"y":-1}]},"mark":{"type":"rule","color":"#d9534f","strokeWidth":2,"clip":true},"encoding":{"x2":{"field":"x2"},"color":{"value":"#d9534f"}}},
{"data":{"name":"c3l"},"mark":{"type":"text","font":"Liberation Sans","fontSize":14,"opacity":0.85},"encoding":{"text":{"field":"b","type":"nominal"}}}
]},
{"width":438,"height":3,"view":{"fill":"#000","stroke":null},"data":{"values":[{"v":0}]},"mark":{"type":"rule","opacity":0},"encoding":{}},
{"width":438,"height":103,"view":{"fill":"#fff","stroke":null},
"encoding":{"x":{"field":"x","type":"quantitative","scale":{"domain":[15,1329],"nice":false,"zero":false},"axis":null},"y":{"field":"y","type":"quantitative","stack":null,"scale":{"domain":[-5,305],"nice":false,"zero":false},"axis":null},"color":{"field":"b","type":"nominal","legend":null,"scale":{"domain":["A","C","G","T","N"],"range":["#4fcc4f","#5b84e6","#2e2e2e","#f25555","#1a1a1a"]}}},
"layer":[
{"data":{"name":"c4d"},"mark":{"type":"rule","color":"#bdbdbd","strokeDash":[2,2],"strokeWidth":1,"clip":true},"encoding":{"y2":{"field":"y2"},"color":{"value":"#bdbdbd"}}},
{"data":{"name":"c4p"},"transform":[{"flatten":["x","y"]}],"mark":{"type":"area","interpolate":"monotone","fillOpacity":0.14,"clip":true},"encoding":{"detail":{"field":"c"}}},
{"data":{"name":"c4p"},"transform":[{"flatten":["x","y"]}],"mark":{"type":"line","interpolate":"monotone","strokeWidth":1.7,"clip":true},"encoding":{"detail":{"field":"c"}}},
{"data":{"values":[{"x":15,"x2":1329,"y":-1}]},"mark":{"type":"rule","color":"#d9534f","strokeWidth":2,"clip":true},"encoding":{"x2":{"field":"x2"},"color":{"value":"#d9534f"}}},
{"data":{"name":"c4b"},"mark":{"type":"rect","fill":"#f7f000","stroke":"#999","strokeWidth":1,"clip":true},"encoding":{"x2":{"field":"x2"},"y2":{"field":"y2"},"color":{"value":"#f7f000"}}},
{"data":{"name":"c4l"},"mark":{"type":"text","font":"Liberation Sans","fontSize":14,"opacity":0.85},"encoding":{"text":{"field":"b","type":"nominal"}}}
]},
{"width":438,"height":83,"view":{"fill":"#000","stroke":null},"data":{"values":[{"v":0}]},"mark":{"type":"rule","opacity":0},"encoding":{}}
]}
]}
]}
